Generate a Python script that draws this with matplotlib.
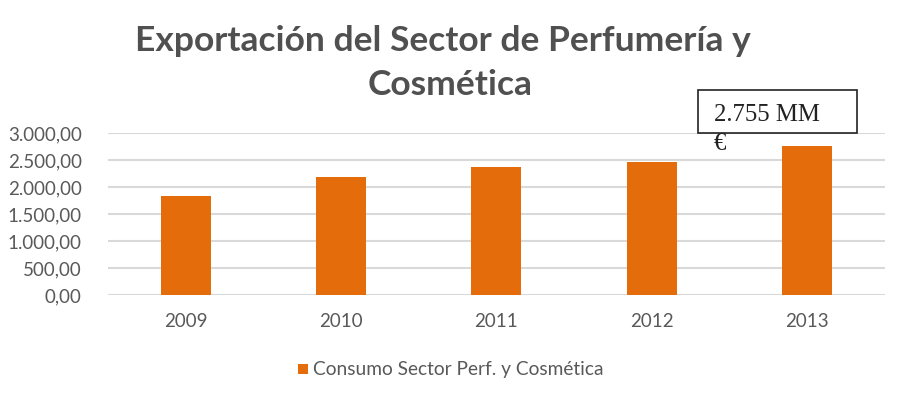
import matplotlib.pyplot as plt
from matplotlib.patches import Rectangle

years = ["2009", "2010", "2011", "2012", "2013"]
valores = [1830, 2185, 2370, 2460, 2755]
yticks = [0, 500, 1000, 1500, 2000, 2500, 3000]
ytick_labels = ["0,00", "500,00", "1.000,00", "1.500,00", "2.000,00", "2.500,00", "3.000,00"]

naranja = "#E46C0A"
gris = "#595959"

plt.rcParams['font.family'] = ['Lato', 'DejaVu Sans']

fig = plt.figure(figsize=(9, 3.94), dpi=100)
ax = fig.add_axes([0.12, 0.251, 0.863, 0.4114])

ax.bar(range(len(years)), valores, width=0.32, color=naranja, zorder=3)
ax.set_xlim(-0.5, len(years) - 0.5)
ax.set_ylim(0, 3000)
ax.set_yticks(yticks)
ax.set_yticklabels(ytick_labels)
ax.set_xticks(range(len(years)))
ax.set_xticklabels(years)
ax.grid(axis="y", color="#D9D9D9", linewidth=1.5, zorder=0)
for s in ax.spines.values():
    s.set_visible(False)
ax.tick_params(length=0, colors=gris, labelsize=13.5)
ax.tick_params(axis="x", pad=13)
ax.tick_params(axis="y", pad=19)

fig.text(0.492, 0.897, "Exportación del Sector de Perfumería y", ha="center", va="center",
         fontsize=25.5, fontweight="bold", color="#505050")
fig.text(0.5, 0.784, "Cosmética", ha="center", va="center",
         fontsize=25.5, fontweight="bold", color="#505050")

# cuadro de anotación
fig.patches.append(Rectangle((698 / 900, 1 - 133 / 394), 159 / 900, 43 / 394,
                             transform=fig.transFigure, facecolor="white",
                             edgecolor="#222222", linewidth=1.2, zorder=5))
fig.text(714 / 900, 1 - 115 / 394, "2.755 MM", ha="left", va="center",
         fontsize=17.8, family="Liberation Serif", color="#222222", zorder=6)
fig.text(714 / 900, 1 - 144 / 394, "€", ha="left", va="center",
         fontsize=17.8, family="Liberation Serif", color="#222222", zorder=6)

# leyenda
fig.patches.append(Rectangle((298 / 900, 1 - 374 / 394), 10 / 900, 10 / 394,
                             transform=fig.transFigure, facecolor=naranja))
fig.text(313 / 900, 1 - 369 / 394, "Consumo Sector Perf. y Cosmética", ha="left", va="center",
         fontsize=13.8, color=gris)

fig.savefig("out.png", dpi=100)
